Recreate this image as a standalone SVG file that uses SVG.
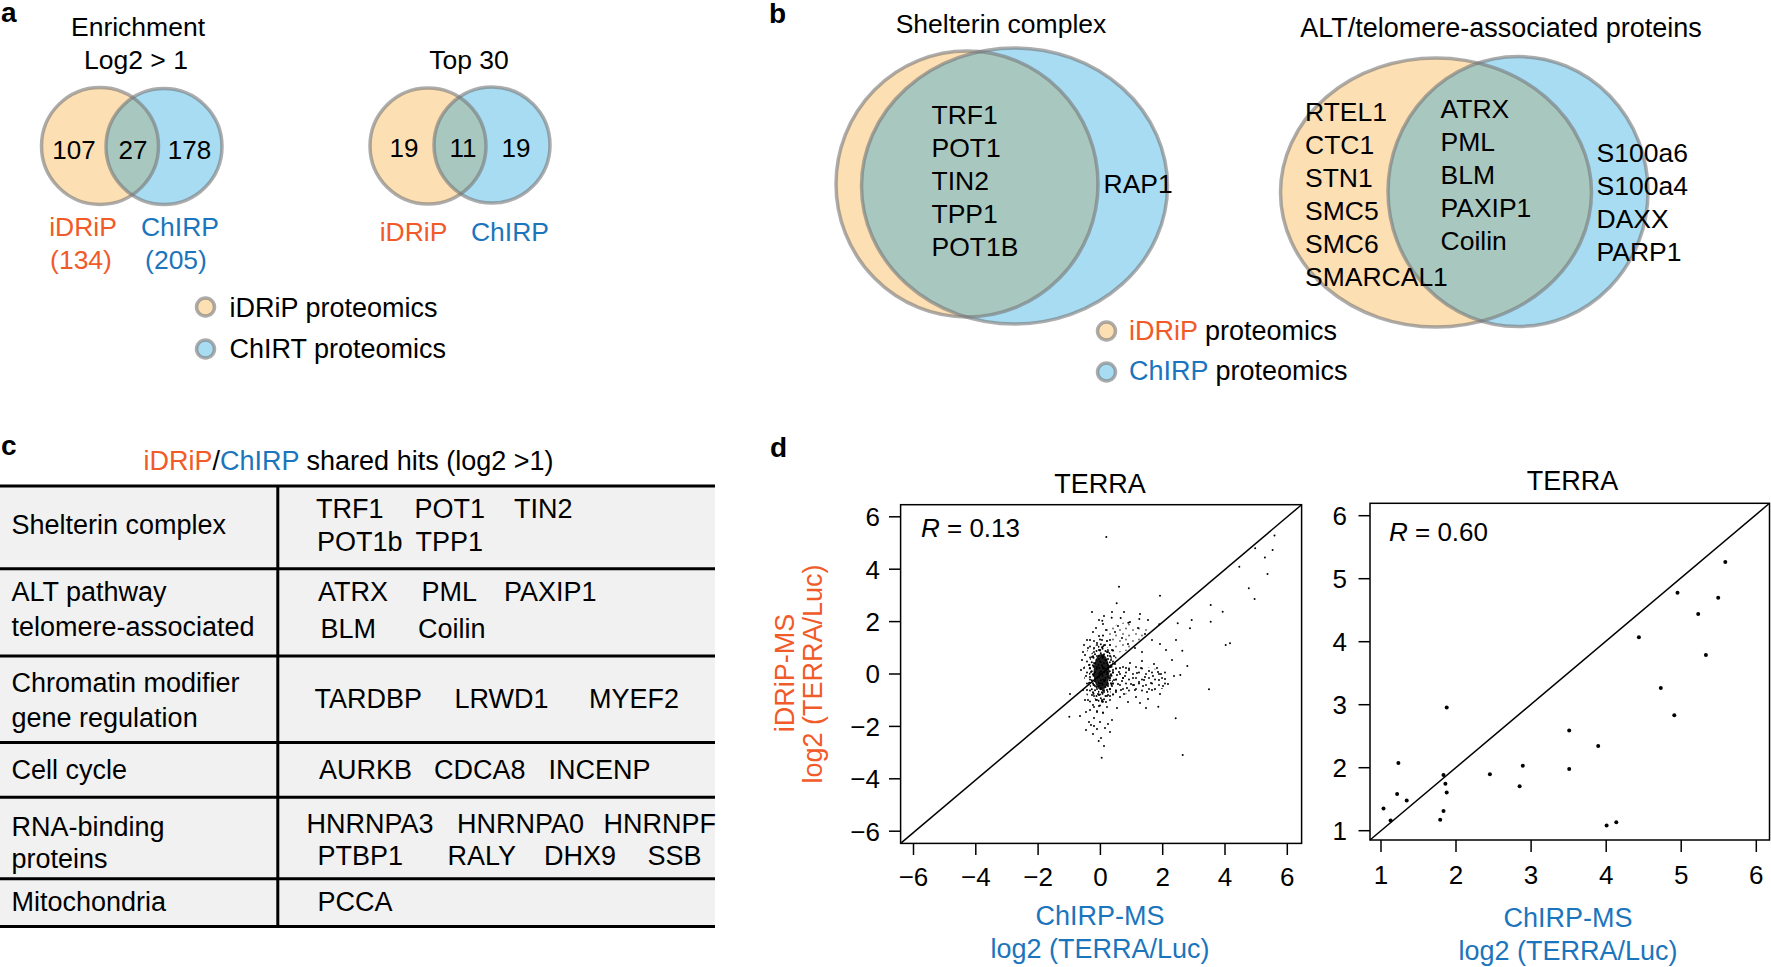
<svg xmlns="http://www.w3.org/2000/svg" width="1771" height="967" viewBox="0 0 1771 967">
<style>
.t{font-family:"Liberation Sans",Arial,Helvetica,sans-serif;font-size:26.5px;fill:#000}
.s27{font-size:27px}
.n26{font-size:26px}
.lbl{font-family:"Liberation Sans",Arial,Helvetica,sans-serif;font-weight:bold;font-size:28px;fill:#000}
.or{fill:#F15A29}
.bl{fill:#1B75BC}
.vo{fill:#FDDFB4}
.vb{fill:#A8DCF2}
.vx{fill:#A8C8BF}
.vs{fill:none;stroke:#777;stroke-opacity:0.6;stroke-width:3.5}
.ax{fill:none;stroke:#000;stroke-width:1.5}
.tk{stroke:#000;stroke-width:1.5}
.row{fill:#F1F1F1}
.tl{stroke:#000;stroke-width:3}
.mid{text-anchor:middle}
.end{text-anchor:end}
</style>
<defs>
<clipPath id="ca1"><circle cx="100" cy="146" r="58.5"/></clipPath>
<clipPath id="ca2"><circle cx="428" cy="146" r="58"/></clipPath>
<clipPath id="cb1"><ellipse cx="967" cy="184" rx="131" ry="133"/></clipPath>
<clipPath id="cb2"><ellipse cx="1436" cy="192.5" rx="155.5" ry="134.5"/></clipPath>
<pattern id="pd" width="9" height="9" patternUnits="userSpaceOnUse">
<g fill="#000"><circle cx="1" cy="2" r="1"/><circle cx="4.5" cy="0.8" r="1"/><circle cx="7.5" cy="3" r="1"/><circle cx="2.8" cy="5.2" r="1"/><circle cx="6" cy="6.3" r="1"/><circle cx="0.5" cy="7.8" r="1"/><circle cx="4" cy="8.2" r="1"/></g>
</pattern>
<pattern id="ps" width="13" height="11" patternUnits="userSpaceOnUse">
<g fill="#000"><circle cx="2" cy="3" r="0.95"/><circle cx="8" cy="1.5" r="0.95"/><circle cx="5" cy="7" r="0.95"/><circle cx="11" cy="8.5" r="0.95"/></g>
</pattern>
</defs>
<rect width="1771" height="967" fill="#fff"/>

<!-- Panel a -->
<g id="panel-a">
<text class="lbl" x="1" y="22">a</text>
<g id="venn-a-enrichment">
<text class="t mid" x="138" y="36">Enrichment</text>
<text class="t mid" x="136" y="69">Log2 &gt; 1</text>
<circle class="vo" cx="100" cy="146" r="58.5"/>
<circle class="vb" cx="164" cy="146.5" r="58"/>
<circle class="vx" cx="164" cy="146.5" r="58" clip-path="url(#ca1)"/>
<circle class="vs" cx="100" cy="146" r="58.5"/>
<circle class="vs" cx="164" cy="146.5" r="58"/>
<text class="t n26 mid" x="74" y="158.5">107</text>
<text class="t n26 mid" x="133" y="158.5">27</text>
<text class="t n26 mid" x="189.5" y="158.5">178</text>
<text class="t mid or" x="83" y="236">iDRiP</text>
<text class="t mid bl" x="180" y="236">ChIRP</text>
<text class="t mid or" x="81" y="269">(134)</text>
<text class="t mid bl" x="176" y="269">(205)</text>
</g>
<g id="venn-a-top30">
<text class="t mid" x="469" y="69">Top 30</text>
<circle class="vo" cx="428" cy="146" r="58"/>
<circle class="vb" cx="492" cy="145" r="58"/>
<circle class="vx" cx="492" cy="145" r="58" clip-path="url(#ca2)"/>
<circle class="vs" cx="428" cy="146" r="58"/>
<circle class="vs" cx="492" cy="145" r="58"/>
<text class="t n26 mid" x="404" y="157">19</text>
<text class="t n26 mid" x="463" y="157">11</text>
<text class="t n26 mid" x="516" y="157">19</text>
<text class="t mid or" x="413.5" y="241">iDRiP</text>
<text class="t mid bl" x="510" y="241">ChIRP</text>
</g>
<g id="legend-a">
<circle class="vo" cx="205.5" cy="307" r="9"/><circle class="vs" cx="205.5" cy="307" r="9"/>
<text class="t s27" x="229.5" y="317">iDRiP proteomics</text>
<circle class="vb" cx="205.5" cy="349" r="9"/><circle class="vs" cx="205.5" cy="349" r="9"/>
<text class="t s27" x="229.5" y="358">ChIRT proteomics</text>
</g>
</g>

<!-- Panel b -->
<g id="panel-b">
<text class="lbl" x="769" y="23">b</text>
<g id="venn-b-shelterin">
<text class="t mid" x="1001" y="33">Shelterin complex</text>
<ellipse class="vo" cx="967" cy="184" rx="131" ry="133"/>
<ellipse class="vb" cx="1014.5" cy="186" rx="153" ry="138"/>
<ellipse class="vx" cx="1014.5" cy="186" rx="153" ry="138" clip-path="url(#cb1)"/>
<ellipse class="vs" cx="967" cy="184" rx="131" ry="133"/>
<ellipse class="vs" cx="1014.5" cy="186" rx="153" ry="138"/>
<text class="t" x="931.5" y="124">TRF1</text>
<text class="t" x="931.5" y="157">POT1</text>
<text class="t" x="931.5" y="190">TIN2</text>
<text class="t" x="931.5" y="223">TPP1</text>
<text class="t" x="931.5" y="256">POT1B</text>
<text class="t" x="1103.5" y="193">RAP1</text>
</g>
<g id="venn-b-alt">
<text class="t s27 mid" x="1501" y="37">ALT/telomere-associated proteins</text>
<ellipse class="vo" cx="1436" cy="192.5" rx="155.5" ry="134.5"/>
<ellipse class="vb" cx="1518" cy="191.5" rx="130" ry="135"/>
<ellipse class="vx" cx="1518" cy="191.5" rx="130" ry="135" clip-path="url(#cb2)"/>
<ellipse class="vs" cx="1436" cy="192.5" rx="155.5" ry="134.5"/>
<ellipse class="vs" cx="1518" cy="191.5" rx="130" ry="135"/>
<text class="t" x="1305" y="120.5">RTEL1</text>
<text class="t" x="1305" y="153.5">CTC1</text>
<text class="t" x="1305" y="186.5">STN1</text>
<text class="t" x="1305" y="219.5">SMC5</text>
<text class="t" x="1305" y="252.5">SMC6</text>
<text class="t" x="1305" y="285.5">SMARCAL1</text>
<text class="t" x="1440.5" y="118">ATRX</text>
<text class="t" x="1440.5" y="151">PML</text>
<text class="t" x="1440.5" y="184">BLM</text>
<text class="t" x="1440.5" y="217">PAXIP1</text>
<text class="t" x="1440.5" y="250">Coilin</text>
<text class="t" x="1596.5" y="161.5">S100a6</text>
<text class="t" x="1596.5" y="194.5">S100a4</text>
<text class="t" x="1596.5" y="227.5">DAXX</text>
<text class="t" x="1596.5" y="260.5">PARP1</text>
</g>
<g id="legend-b">
<circle class="vo" cx="1106.5" cy="331" r="9"/><circle class="vs" cx="1106.5" cy="331" r="9"/>
<text class="t s27" x="1129" y="339.5"><tspan class="or">iDRiP</tspan> proteomics</text>
<circle class="vb" cx="1106.5" cy="372" r="9"/><circle class="vs" cx="1106.5" cy="372" r="9"/>
<text class="t s27" x="1129" y="380"><tspan class="bl">ChIRP</tspan> proteomics</text>
</g>
</g>

<!-- Panel c -->
<g id="panel-c">
<text class="lbl" x="1" y="455">c</text>
<text class="t s27" x="143.5" y="469.5"><tspan class="or">iDRiP</tspan>/<tspan class="bl">ChIRP</tspan> shared hits (log2 &gt;1)</text>
<rect class="row" x="0" y="486" width="715" height="440.5"/>
<g id="table-lines">
<line class="tl" x1="0" y1="486" x2="715" y2="486"/>
<line class="tl" x1="0" y1="568.7" x2="715" y2="568.7"/>
<line class="tl" x1="0" y1="656" x2="715" y2="656"/>
<line class="tl" x1="0" y1="742.4" x2="715" y2="742.4"/>
<line class="tl" x1="0" y1="797.2" x2="715" y2="797.2"/>
<line class="tl" x1="0" y1="878.7" x2="715" y2="878.7"/>
<line class="tl" x1="0" y1="926.5" x2="715" y2="926.5"/>
<line class="tl" x1="277.8" y1="486" x2="277.8" y2="926.5"/>
</g>
<g id="row-shelterin">
<text class="t s27" x="11.5" y="534">Shelterin complex</text>
<text class="t s27" x="316" y="517.5">TRF1</text><text class="t s27" x="414.5" y="517.5">POT1</text><text class="t s27" x="514" y="517.5">TIN2</text>
<text class="t s27" x="317" y="550.5">POT1b</text><text class="t s27" x="415.5" y="550.5">TPP1</text>
</g>
<g id="row-alt">
<text class="t s27" x="11.5" y="600.5">ALT pathway</text>
<text class="t s27" x="11.5" y="635.5">telomere-associated</text>
<text class="t s27" x="318" y="600.5">ATRX</text><text class="t s27" x="421.5" y="600.5">PML</text><text class="t s27" x="504" y="600.5">PAXIP1</text>
<text class="t s27" x="320.5" y="638">BLM</text><text class="t s27" x="418" y="638">Coilin</text>
</g>
<g id="row-chromatin">
<text class="t s27" x="11.5" y="692">Chromatin modifier</text>
<text class="t s27" x="11.5" y="727.3">gene regulation</text>
<text class="t s27" x="314.5" y="707.5">TARDBP</text><text class="t s27" x="454.5" y="707.5">LRWD1</text><text class="t s27" x="589" y="707.5">MYEF2</text>
</g>
<g id="row-cellcycle">
<text class="t s27" x="11.5" y="778.7">Cell cycle</text>
<text class="t s27" x="319" y="778.7">AURKB</text><text class="t s27" x="434" y="778.7">CDCA8</text><text class="t s27" x="548.5" y="778.7">INCENP</text>
</g>
<g id="row-rna">
<text class="t s27" x="11.5" y="836">RNA-binding</text>
<text class="t s27" x="11.5" y="868.4">proteins</text>
<text class="t s27" x="306.5" y="832.5">HNRNPA3</text><text class="t s27" x="457" y="832.5">HNRNPA0</text><text class="t s27" x="603.5" y="832.5">HNRNPF</text>
<text class="t s27" x="317.5" y="865">PTBP1</text><text class="t s27" x="447.5" y="865">RALY</text><text class="t s27" x="544" y="865">DHX9</text><text class="t s27" x="647.5" y="865">SSB</text>
</g>
<g id="row-mito">
<text class="t s27" x="11.5" y="911.2">Mitochondria</text>
<text class="t s27" x="317.5" y="911.2">PCCA</text>
</g>
</g>

<!-- Panel d -->
<g id="panel-d">
<text class="lbl" x="770" y="457">d</text>
<g id="plot-left">
<text class="t s27 mid" x="1100" y="492.7">TERRA</text>
<rect class="ax" x="900.6" y="504.7" width="401" height="338.7"/>
<g id="left-points">
<ellipse cx="1101" cy="674" rx="17" ry="40" fill="url(#ps)"/>
<ellipse cx="1101" cy="673" rx="12.5" ry="30" fill="url(#pd)"/>
<ellipse cx="1101.5" cy="672" rx="8" ry="18" fill="#000" fill-opacity="0.88"/>
<path d="M1108 663 L1135 665 L1166 671 L1167 688 L1138 693 L1108 696 Z" fill="url(#ps)"/>
<path d="M1100 630 L1125 622 L1150 630 L1130 650 L1108 655 Z" fill="url(#ps)" fill-opacity="0.6"/>
<path fill="none" stroke="#000" stroke-width="2" stroke-linecap="round" d="M1082 660h0M1084 668h0M1085 655h0M1086 676h0M1087 690h0M1088 648h0M1088 700h0M1089 665h0M1089 683h0M1090 640h0M1090 710h0M1091 672h0M1092 657h0M1092 695h0M1093 632h0M1093 705h0M1094 648h0M1094 718h0M1095 686h0M1096 628h0M1096 700h0M1097 643h0M1097 712h0M1098 694h0M1099 636h0M1099 706h0M1100 650h0M1100 722h0M1101 688h0M1102 640h0M1102 700h0M1103 656h0M1103 713h0M1104 668h0M1104 692h0M1105 645h0M1105 680h0M1106 660h0M1106 702h0M1107 672h0M1107 690h0M1108 652h0M1108 684h0M1109 666h0M1110 676h0M1110 696h0M1111 660h0M1112 686h0M1113 670h0M1114 680h0M1115 664h0M1116 692h0M1117 675h0M1118 684h0M1120 668h0M1121 690h0M1123 678h0M1081 670h0M1083 690h0M1085 700h0M1087 640h0M1086 712h0M1091 725h0M1084 645h0M1083 652h0M1099 620h0M1103 624h0M1106 630h0M1110 640h0M1112 650h0M1114 656h0M1119 672h0M1122 681h0M1125 676h0M1127 688h0M1129 670h0M1131 684h0M1133 678h0M1135 690h0M1137 673h0M1139 682h0M1141 668h0M1143 686h0M1145 677h0M1147 692h0M1149 671h0M1151 683h0M1153 676h0M1155 689h0M1157 668h0M1159 680h0M1161 674h0M1163 686h0M1165 679h0M1124 694h0M1130 663h0M1136 697h0M1142 661h0M1148 699h0M1154 664h0M1160 694h0M1126 668h0M1134 685h0M1144 680h0M1152 690h0M1158 672h0M1120 697h0M1128 702h0M1140 703h0M1174 676h0M1104 616h0M1112 612h0M1118 626h0M1124 612h0M1130 622h0M1138 628h0M1145 634h0M1152 640h0M1092 612h0M1115 632h0M1122 638h0M1128 644h0M1135 648h0M1142 652h0M1140 614h0M1148 620h0M1160 644h0M1089 722h0M1093 734h0M1097 729h0M1101 738h0M1105 728h0M1108 724h0M1112 720h0M1086 730h0M1117 708h0M1080 716h0M1070 694h0M1069.3 716.7h0M1119 586.7h0M1160 595.7h0M1116.7 603.3h0M1210.7 605h0M1222.7 611.7h0M1210.7 621.7h0M1102.3 620.7h0M1111.7 617.7h0M1120.7 618h0M1128.3 622.7h0M1139.3 619h0M1159.3 624.3h0M1177.7 623.3h0M1191.7 620h0M1190 628.3h0M1225.7 645h0M1230 643.3h0M1182.3 650.7h0M1187.3 666h0M1180.3 675h0M1209 689.3h0M1158.3 706.7h0M1175.7 718.3h0M1098.7 741h0M1101.7 757.7h0M1182.7 755h0M1239.3 566.7h0M1255.2 548.2h0M1272.6 549.9h0M1264.9 557.4h0M1267.5 573.9h0M1248.8 588.2h0M1254.6 598.9h0M1106.3 536.9h0M1274.5 535.5h0M1172 660h0M1166 650h0M1176 640h0M1168 684h0M1146 708h0M1094 726h0M1104 746h0M1110 732h0"/>
</g>
<line class="tk" x1="900.6" y1="843.4" x2="1301.6" y2="504.7"/>
<g id="left-yaxis">
<line class="tk" x1="889" y1="516.8" x2="900.6" y2="516.8"/>
<line class="tk" x1="889" y1="569.2" x2="900.6" y2="569.2"/>
<line class="tk" x1="889" y1="621.6" x2="900.6" y2="621.6"/>
<line class="tk" x1="889" y1="674" x2="900.6" y2="674"/>
<line class="tk" x1="889" y1="726.4" x2="900.6" y2="726.4"/>
<line class="tk" x1="889" y1="778.8" x2="900.6" y2="778.8"/>
<line class="tk" x1="889" y1="831.2" x2="900.6" y2="831.2"/>
<text class="t n26 end" x="880" y="526">6</text>
<text class="t n26 end" x="880" y="578.5">4</text>
<text class="t n26 end" x="880" y="631">2</text>
<text class="t n26 end" x="880" y="683.3">0</text>
<text class="t n26 end" x="880" y="735.7">−2</text>
<text class="t n26 end" x="880" y="788">−4</text>
<text class="t n26 end" x="880" y="840.5">−6</text>
</g>
<g id="left-xaxis">
<line class="tk" x1="913.5" y1="843.4" x2="913.5" y2="855"/>
<line class="tk" x1="975.8" y1="843.4" x2="975.8" y2="855"/>
<line class="tk" x1="1038.1" y1="843.4" x2="1038.1" y2="855"/>
<line class="tk" x1="1100.4" y1="843.4" x2="1100.4" y2="855"/>
<line class="tk" x1="1162.7" y1="843.4" x2="1162.7" y2="855"/>
<line class="tk" x1="1225" y1="843.4" x2="1225" y2="855"/>
<line class="tk" x1="1287.3" y1="843.4" x2="1287.3" y2="855"/>
<text class="t n26 mid" x="913.5" y="885.5">−6</text>
<text class="t n26 mid" x="975.8" y="885.5">−4</text>
<text class="t n26 mid" x="1038.1" y="885.5">−2</text>
<text class="t n26 mid" x="1100.4" y="885.5">0</text>
<text class="t n26 mid" x="1162.7" y="885.5">2</text>
<text class="t n26 mid" x="1225" y="885.5">4</text>
<text class="t n26 mid" x="1287.3" y="885.5">6</text>
</g>
<text class="t n26" x="921" y="537"><tspan font-style="italic">R</tspan> = 0.13</text>
<text class="t s27 mid bl" x="1100" y="925">ChIRP-MS</text>
<text class="t s27 mid bl" x="1100" y="957.5">log2 (TERRA/Luc)</text>
<text class="t s27 mid or" transform="translate(794 673) rotate(-90)">iDRiP-MS</text>
<text class="t s27 mid or" transform="translate(822 674) rotate(-90)">log2 (TERRA/Luc)</text>
</g>
<g id="plot-right">
<text class="t s27 mid" x="1572.5" y="490">TERRA</text>
<rect class="ax" x="1370" y="503.3" width="399.5" height="336.7"/>
<line class="tk" x1="1370" y1="840" x2="1769.5" y2="503.3"/>
<g id="right-yaxis">
<line class="tk" x1="1358.5" y1="515.7" x2="1370" y2="515.7"/>
<line class="tk" x1="1358.5" y1="578.7" x2="1370" y2="578.7"/>
<line class="tk" x1="1358.5" y1="641.7" x2="1370" y2="641.7"/>
<line class="tk" x1="1358.5" y1="704.7" x2="1370" y2="704.7"/>
<line class="tk" x1="1358.5" y1="767.7" x2="1370" y2="767.7"/>
<line class="tk" x1="1358.5" y1="830.7" x2="1370" y2="830.7"/>
<text class="t n26 end" x="1347" y="525">6</text>
<text class="t n26 end" x="1347" y="588">5</text>
<text class="t n26 end" x="1347" y="651">4</text>
<text class="t n26 end" x="1347" y="714">3</text>
<text class="t n26 end" x="1347" y="777">2</text>
<text class="t n26 end" x="1347" y="840">1</text>
</g>
<g id="right-xaxis">
<line class="tk" x1="1381" y1="840" x2="1381" y2="852"/>
<line class="tk" x1="1456" y1="840" x2="1456" y2="852"/>
<line class="tk" x1="1531.1" y1="840" x2="1531.1" y2="852"/>
<line class="tk" x1="1606.2" y1="840" x2="1606.2" y2="852"/>
<line class="tk" x1="1681.2" y1="840" x2="1681.2" y2="852"/>
<line class="tk" x1="1756.3" y1="840" x2="1756.3" y2="852"/>
<text class="t n26 mid" x="1381" y="884">1</text>
<text class="t n26 mid" x="1456" y="884">2</text>
<text class="t n26 mid" x="1531.1" y="884">3</text>
<text class="t n26 mid" x="1606.2" y="884">4</text>
<text class="t n26 mid" x="1681.2" y="884">5</text>
<text class="t n26 mid" x="1756.3" y="884">6</text>
</g>
<text class="t n26" x="1389" y="541"><tspan font-style="italic">R</tspan> = 0.60</text>
<text class="t s27 mid bl" x="1568" y="927.3">ChIRP-MS</text>
<text class="t s27 mid bl" x="1568" y="960">log2 (TERRA/Luc)</text>
<g id="right-points" fill="#000">
<circle cx="1725.3" cy="561.9" r="2"/>
<circle cx="1677.5" cy="592.7" r="2"/>
<circle cx="1718.2" cy="597.8" r="2"/>
<circle cx="1698.2" cy="613.9" r="2"/>
<circle cx="1638.9" cy="637.2" r="2"/>
<circle cx="1705.9" cy="655" r="2"/>
<circle cx="1660.8" cy="687.9" r="2"/>
<circle cx="1674.3" cy="715.3" r="2"/>
<circle cx="1446.7" cy="707.4" r="2"/>
<circle cx="1569.2" cy="730.4" r="2"/>
<circle cx="1598.2" cy="746.1" r="2"/>
<circle cx="1522.8" cy="765.7" r="2"/>
<circle cx="1569.2" cy="769.1" r="2"/>
<circle cx="1489.9" cy="774.2" r="2"/>
<circle cx="1443.5" cy="774.9" r="2"/>
<circle cx="1519.6" cy="786.2" r="2"/>
<circle cx="1398.4" cy="762.9" r="2"/>
<circle cx="1397.1" cy="794.1" r="2"/>
<circle cx="1406.7" cy="800.6" r="2"/>
<circle cx="1445.4" cy="783.8" r="2"/>
<circle cx="1446.7" cy="792.4" r="2"/>
<circle cx="1443.5" cy="810.9" r="2"/>
<circle cx="1383.5" cy="808.5" r="2"/>
<circle cx="1390.6" cy="820.5" r="2"/>
<circle cx="1440.2" cy="819.8" r="2"/>
<circle cx="1606.6" cy="825.6" r="2"/>
<circle cx="1616.3" cy="822.2" r="2"/>
</g>
</g>
</g>
<g id="connectors"/>
</svg>
